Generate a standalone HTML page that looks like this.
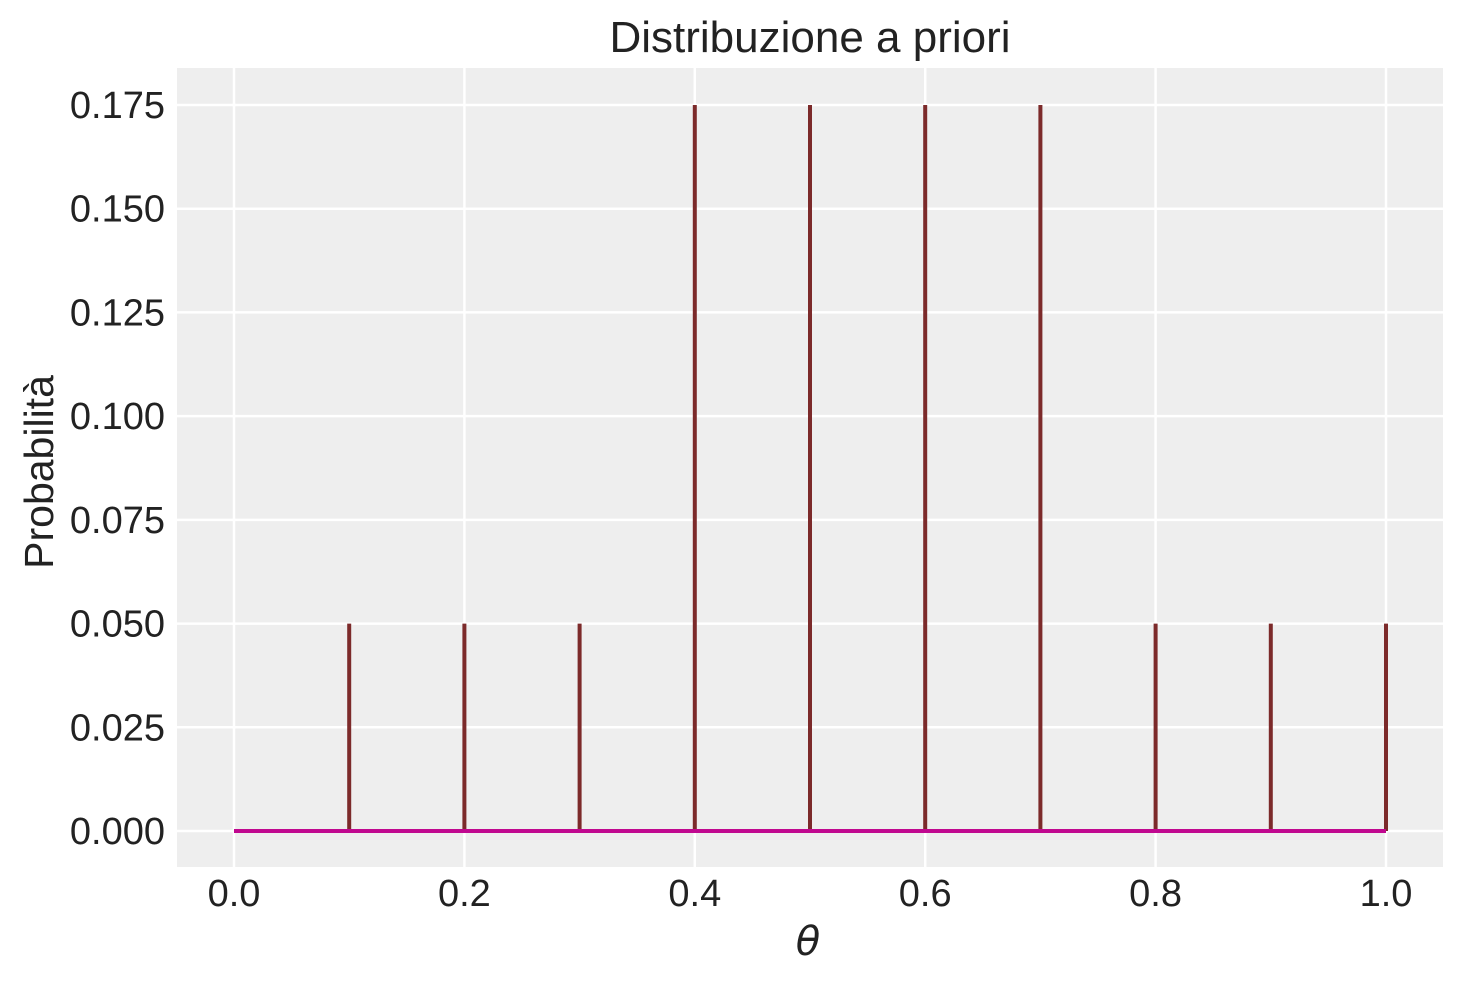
<!DOCTYPE html>
<html><head><meta charset="utf-8"><style>
body{margin:0;background:#fff;}
svg{display:block;font-family:"Liberation Sans",sans-serif;}
</style></head><body>
<svg id="chart" width="1463" height="983">
<rect x="177" y="68" width="1266" height="799" fill="#eeeeee"/>
<g id="grid"></g>
<g id="marks"></g>
<g id="labels" font-size="38" fill="#222"></g>
<text x="810" y="52" font-size="44" text-anchor="middle" fill="#222">Distribuzione a priori</text>
<text x="808" y="955" font-size="40" font-style="italic" text-anchor="middle" fill="#222" font-family="DejaVu Sans,sans-serif">θ</text>
<text transform="translate(53,472) rotate(-90)" font-size="41" text-anchor="middle" fill="#222">Probabilità</text>
</svg>
<script>
const thetas=[0,0.1,0.2,0.3,0.4,0.5,0.6,0.7,0.8,0.9,1.0];
const probs=[0,0.05,0.05,0.05,0.175,0.175,0.175,0.175,0.05,0.05,0.05];
const xTicks=[0,0.2,0.4,0.6,0.8,1.0];
const xTickLabels=["0.0","0.2","0.4","0.6","0.8","1.0"];
const yTicks=[0,0.025,0.05,0.075,0.1,0.125,0.15,0.175];
const yTickLabels=["0.000","0.025","0.050","0.075","0.100","0.125","0.150","0.175"];
const NS="http://www.w3.org/2000/svg";
const xs=v=>234+v*1152;
const ys=v=>831-v*(726/0.175);
function mk(tag,attrs,parent){const e=document.createElementNS(NS,tag);for(const k in attrs)e.setAttribute(k,attrs[k]);document.getElementById(parent).appendChild(e);return e;}
xTicks.forEach((t,i)=>{
 const l=mk('line',{x1:xs(t),x2:xs(t),y1:68,y2:867,stroke:'#fff','stroke-width':2.5},'grid');
 
 
 const tx=mk('text',{x:xs(t),y:906,'text-anchor':'middle'},'labels');
 tx.textContent=xTickLabels[i];
 
 
});
yTicks.forEach((t,i)=>{
 const l=mk('line',{x1:177,x2:1443,y1:ys(t),y2:ys(t),stroke:'#fff','stroke-width':2.5},'grid');
 
 
 const tx=mk('text',{x:165,y:ys(t)+13,'text-anchor':'end'},'labels');
 tx.textContent=yTickLabels[i];
 
 
});
thetas.forEach((t,i)=>{
 const l=mk('line',{x1:xs(t),x2:xs(t),y1:ys(0),y2:ys(probs[i]),stroke:'#7c2a2a','stroke-width':4},'marks');
 
 
});
const b=mk('line',{x1:xs(thetas[0]),x2:xs(thetas[thetas.length-1]),y1:ys(0),y2:ys(0),stroke:'#c0088f','stroke-width':4},'marks');


</script>
</body></html>
